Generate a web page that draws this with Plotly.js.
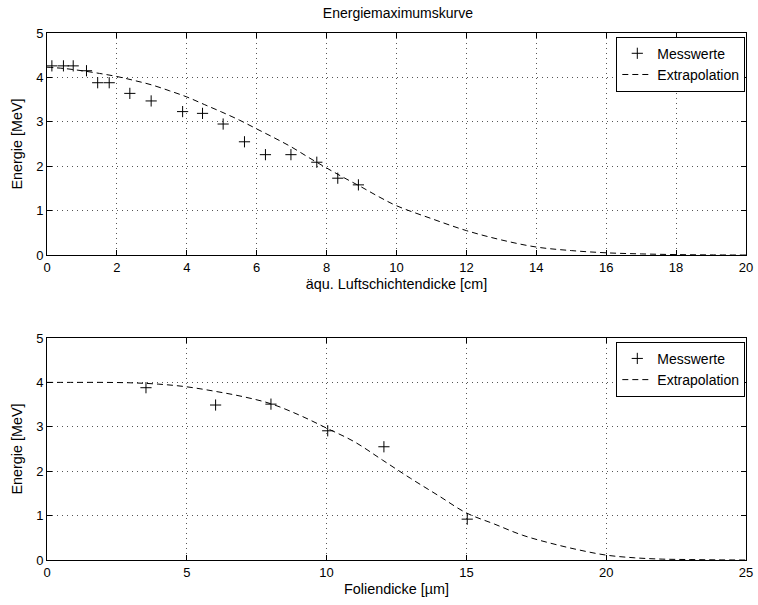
<!DOCTYPE html>
<html>
<head>
<meta charset="utf-8">
<script src="https://cdn.plot.ly/plotly-3.0.1.min.js"></script>
<style>html,body{margin:0;padding:0;background:#fff;}#chart{width:758px;height:605px;}</style>
</head>
<body>
<div id="chart"></div>
<script>
// Top panel: measured values
const topMessX = [0.14, 0.47, 0.75, 1.13, 1.45, 1.78, 2.37, 2.98, 3.88, 4.45, 5.04, 5.65, 6.25, 6.98, 7.72, 8.32, 8.91];
const topMessY = [4.26, 4.26, 4.26, 4.15, 3.88, 3.88, 3.64, 3.47, 3.23, 3.19, 2.95, 2.55, 2.26, 2.26, 2.09, 1.73, 1.58];
// Top panel: extrapolation curve
const topExtX = [0, 0.5, 1, 1.5, 2, 2.5, 3, 3.5, 4, 4.5, 5, 5.5, 6, 6.5, 7, 7.5, 8, 8.5, 9, 9.5, 10, 11, 12, 13, 14, 15, 16, 17, 18, 19, 20];
const topExtY = [4.23, 4.2, 4.15, 4.09, 4.02, 3.93, 3.83, 3.70, 3.56, 3.39, 3.22, 3.04, 2.84, 2.64, 2.43, 2.19, 1.96, 1.74, 1.53, 1.31, 1.11, 0.82, 0.55, 0.34, 0.18, 0.10, 0.05, 0.025, 0.01, 0.003, 0];
// Bottom panel: measured values
const botMessX = [3.54, 6.03, 8.01, 10.04, 12.05, 15.03];
const botMessY = [3.88, 3.49, 3.51, 2.91, 2.55, 0.92];
// Bottom panel: extrapolation curve
const botExtX = [0, 1, 2, 3, 4, 5, 6, 7, 8, 9, 10, 11, 12, 13, 14, 15, 16, 17, 18, 19, 20, 21, 22, 23, 24, 25];
const botExtY = [4.0, 4.0, 4.0, 3.99, 3.96, 3.90, 3.80, 3.68, 3.52, 3.27, 2.97, 2.66, 2.25, 1.84, 1.45, 1.06, 0.81, 0.56, 0.38, 0.23, 0.11, 0.05, 0.02, 0.01, 0.003, 0];

const titleText = 'Energiemaximumskurve';
const yTitle = 'Energie [MeV]';
const xTitleTop = 'äqu. Luftschichtendicke [cm]';
const xTitleBot = 'Foliendicke [µm]';
const nameMess = 'Messwerte';
const nameExt = 'Extrapolation';

const FONT = 'Liberation Sans, Arial, Helvetica, sans-serif';
const markerStyle = {symbol: 'cross-thin', size: 8, color: '#000', line: {width: 1, color: '#000'}};
const lineStyle = {color: '#000', width: 1, dash: '6px,4px', shape: 'spline'};

const traces = [
  {x: topMessX, y: topMessY, type: 'scatter', mode: 'markers', name: nameMess, marker: markerStyle, xaxis: 'x', yaxis: 'y', legend: 'legend'},
  {x: topExtX, y: topExtY, type: 'scatter', mode: 'lines', name: nameExt, line: lineStyle, xaxis: 'x', yaxis: 'y', legend: 'legend'},
  {x: botMessX, y: botMessY, type: 'scatter', mode: 'markers', name: nameMess, marker: markerStyle, xaxis: 'x2', yaxis: 'y2', legend: 'legend2'},
  {x: botExtX, y: botExtY, type: 'scatter', mode: 'lines', name: nameExt, line: lineStyle, xaxis: 'x2', yaxis: 'y2', legend: 'legend2'}
];

function axisBase() {
  return {
    showline: true, linecolor: '#000', linewidth: 1, mirror: 'allticks',
    ticks: 'inside', ticklen: 5, tickcolor: '#000', tickwidth: 1,
    showgrid: true, gridcolor: '#555', gridwidth: 1, griddash: '1px,4px',
    zeroline: false, tickfont: {family: FONT, size: 13, color: '#000'}
  };
}

const legendBase = {
  bgcolor: '#fff', bordercolor: '#000', borderwidth: 1,
  font: {family: FONT, size: 14, color: '#000'},
  xanchor: 'right', yanchor: 'top', tracegroupgap: 0, itemwidth: 30
};

const layout = {
  width: 758, height: 605,
  margin: {l: 47, r: 12, t: 33, b: 45},
  paper_bgcolor: '#fff', plot_bgcolor: '#fff',
  font: {family: FONT, size: 13, color: '#000'},
  showlegend: true,
  title: {text: titleText, x: 0.525, xanchor: 'center', y: 0.978, yanchor: 'middle', font: {family: FONT, size: 14, color: '#000'}},
  xaxis: Object.assign(axisBase(), {domain: [0, 1], anchor: 'y', range: [0, 20], tickvals: [0,2,4,6,8,10,12,14,16,18,20], title: {text: xTitleTop, standoff: 5, font: {family: FONT, size: 14.4}}}),
  yaxis: Object.assign(axisBase(), {domain: [0.5787, 1], anchor: 'x', range: [0, 5], tickvals: [0,1,2,3,4,5], title: {text: yTitle, standoff: 10, font: {family: FONT, size: 14.4}}}),
  xaxis2: Object.assign(axisBase(), {domain: [0, 1], anchor: 'y2', range: [0, 25], tickvals: [0,5,10,15,20,25], title: {text: xTitleBot, standoff: 5, font: {family: FONT, size: 14.4}}}),
  yaxis2: Object.assign(axisBase(), {domain: [0, 0.4213], anchor: 'x2', range: [0, 5], tickvals: [0,1,2,3,4,5], title: {text: yTitle, standoff: 10, font: {family: FONT, size: 14.4}}}),
  legend: Object.assign({}, legendBase, {x: 0.999, y: 0.993}),
  legend2: Object.assign({}, legendBase, {x: 0.999, y: 0.414})
};

Plotly.newPlot('chart', traces, layout, {displayModeBar: false, staticPlot: true});
</script>
</body>
</html>
